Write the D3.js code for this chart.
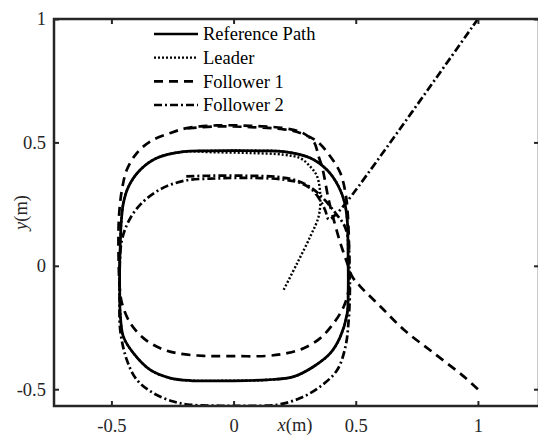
<!DOCTYPE html>
<html>
<head>
<meta charset="utf-8">
<script src="https://cdn.jsdelivr.net/npm/d3@7"></script>
<style>
  body { margin: 0; background: #fff; }
  svg text { font-family: "Liberation Serif", "DejaVu Serif", serif; }
</style>
</head>
<body>
<svg id="chart"></svg>
<script>
// Trajectories, [x, y] in metres
const referencePath = [
  [0.469, 0.00], [0.468, 0.10], [0.466, 0.173], [0.455, 0.254], [0.43, 0.321],
  [0.382, 0.389], [0.314, 0.437], [0.205, 0.463], [0.10, 0.466], [0.00, 0.467],
  [-0.10, 0.466], [-0.205, 0.463], [-0.314, 0.437], [-0.382, 0.389], [-0.43, 0.321],
  [-0.451, 0.254], [-0.46, 0.173], [-0.464, 0.08], [-0.466, 0.00], [-0.466, -0.10],
  [-0.464, -0.192], [-0.451, -0.287], [-0.41, -0.354], [-0.341, -0.422], [-0.259, -0.455],
  [-0.177, -0.465], [-0.06, -0.466], [0.05, -0.465], [0.137, -0.462], [0.246, -0.449],
  [0.328, -0.408], [0.396, -0.354], [0.437, -0.287], [0.465, -0.192], [0.469, -0.10],
  [0.469, 0.00]
];

const leader = [
  [0.205, -0.097], [0.26, 0.01], [0.314, 0.119], [0.348, 0.20], [0.355, 0.281],
  [0.342, 0.362], [0.314, 0.402], [0.273, 0.436], [0.205, 0.45], [0.068, 0.457],
  [-0.08, 0.46], [-0.205, 0.462], [-0.314, 0.437], [-0.382, 0.389], [-0.43, 0.321],
  [-0.451, 0.254], [-0.46, 0.173], [-0.464, 0.08], [-0.466, 0.00], [-0.466, -0.10],
  [-0.464, -0.192], [-0.451, -0.287], [-0.41, -0.354], [-0.341, -0.422], [-0.259, -0.455],
  [-0.177, -0.465], [-0.06, -0.466], [0.05, -0.465], [0.137, -0.462], [0.246, -0.449],
  [0.328, -0.408], [0.396, -0.354], [0.437, -0.287], [0.465, -0.192], [0.469, -0.10],
  [0.469, 0.00], [0.468, 0.10], [0.466, 0.173], [0.455, 0.254], [0.43, 0.321],
  [0.382, 0.389], [0.314, 0.437], [0.205, 0.463], [0.10, 0.466], [0.00, 0.467],
  [-0.15, 0.465]
];

const follower1 = [
  [1.00, -0.50], [0.943, -0.449], [0.82, -0.354], [0.697, -0.259], [0.601, -0.165],
  [0.519, -0.084], [0.485, -0.043], [0.465, 0.011], [0.451, 0.051], [0.437, 0.092],
  [0.41, 0.186], [0.389, 0.268], [0.376, 0.335], [0.362, 0.402], [0.348, 0.443],
  [0.33, 0.50], [0.28, 0.54], [0.205, 0.558], [0.068, 0.567], [-0.068, 0.569],
  [-0.191, 0.558], [-0.259, 0.538], [-0.341, 0.504], [-0.396, 0.457], [-0.437, 0.389],
  [-0.457, 0.308], [-0.467, 0.227], [-0.471, 0.146], [-0.47, 0.00], [-0.466, -0.09],
  [-0.457, -0.151], [-0.423, -0.232], [-0.369, -0.293], [-0.30, -0.334], [-0.232, -0.354],
  [-0.123, -0.365], [0.00, -0.366], [0.137, -0.365], [0.219, -0.354], [0.287, -0.334],
  [0.355, -0.293], [0.41, -0.232], [0.451, -0.165], [0.471, -0.097], [0.473, 0.00],
  [0.472, 0.10], [0.467, 0.214], [0.458, 0.295], [0.437, 0.376], [0.396, 0.443],
  [0.342, 0.504], [0.273, 0.538], [0.205, 0.553], [0.068, 0.562], [-0.068, 0.565],
  [-0.20, 0.556]
];

const follower2 = [
  [1.00, 1.00], [0.465, 0.261], [0.42, 0.21], [0.39, 0.188], [0.375, 0.225],
  [0.355, 0.265], [0.325, 0.305], [0.28, 0.333], [0.20, 0.35], [0.07, 0.356],
  [-0.07, 0.354], [-0.20, 0.345], [-0.30, 0.31], [-0.38, 0.25], [-0.43, 0.18],
  [-0.458, 0.10], [-0.466, 0.00], [-0.466, -0.10], [-0.464, -0.259], [-0.437, -0.381],
  [-0.396, -0.462], [-0.328, -0.516], [-0.246, -0.55], [-0.177, -0.563], [-0.055, -0.567],
  [0.05, -0.567], [0.178, -0.563], [0.273, -0.536], [0.355, -0.489], [0.424, -0.422],
  [0.458, -0.327], [0.471, -0.219], [0.476, -0.097], [0.474, 0.00], [0.47, 0.10],
  [0.455, 0.16], [0.42, 0.21], [0.37, 0.27], [0.32, 0.315], [0.26, 0.345],
  [0.18, 0.36], [0.05, 0.365], [-0.10, 0.365], [-0.20, 0.362]
];

const seriesNames = ["Reference Path", "Leader", "Follower 1", "Follower 2"];
const xTicks = [-0.5, 0, 0.5, 1];
const yTicks = [-0.5, 0, 0.5, 1];

const width = 538, height = 435;
const plot = { left: 54, top: 19, right: 539, bottom: 406 };

const svg = d3.select("#chart")
  .attr("width", width)
  .attr("height", height);

const x = d3.scaleLinear().domain([-0.735, 1.25]).range([plot.left, plot.right]);
const y = d3.scaleLinear().domain([-0.568, 1]).range([plot.bottom, plot.top]);

// line styles per series
const styles = [
  { dash: null, width: 2.7 },
  { dash: "2,2", width: 2.4 },
  { dash: "9,6", width: 2.7 },
  { dash: "8,3,2,3", width: 2.7 }
];

svg.append("clipPath").attr("id", "clip")
  .append("rect")
  .attr("x", plot.left).attr("y", plot.top)
  .attr("width", plot.right - plot.left).attr("height", plot.bottom - plot.top);

const line = d3.line()
  .x(d => x(d[0]))
  .y(d => y(d[1]))
  .curve(d3.curveCatmullRom.alpha(0.5));

const allSeries = [referencePath, leader, follower1, follower2];
const g = svg.append("g").attr("clip-path", "url(#clip)");

allSeries.forEach((pts, i) => {
  g.append("path")
    .datum(pts)
    .attr("d", line)
    .attr("fill", "none")
    .attr("stroke", "#000")
    .attr("stroke-width", styles[i].width)
    .attr("stroke-dasharray", styles[i].dash);
});

// Axes, ticks pointing inward on all four sides
const axisColor = "#262626";
const fmt = d => String(d);
function styleAxis(sel) {
  sel.select(".domain").remove();
  sel.selectAll(".tick line").attr("stroke", axisColor).attr("stroke-width", 2);
  sel.selectAll(".tick text")
    .attr("fill", axisColor)
    .style("font-size", "18.5px");
}

svg.append("g")
  .attr("transform", `translate(0,${plot.bottom})`)
  .call(d3.axisBottom(x).tickValues(xTicks).tickSize(-5).tickPadding(13).tickFormat(fmt))
  .call(styleAxis);

svg.append("g")
  .attr("transform", `translate(0,${plot.top})`)
  .call(d3.axisTop(x).tickValues(xTicks).tickSize(-5).tickFormat(""))
  .call(styleAxis);

svg.append("g")
  .attr("transform", `translate(${plot.left},0)`)
  .call(d3.axisLeft(y).tickValues(yTicks).tickSize(-5).tickPadding(8).tickFormat(fmt))
  .call(styleAxis);

svg.append("g")
  .attr("transform", `translate(${plot.right},0)`)
  .call(d3.axisRight(y).tickValues(yTicks).tickSize(-5).tickFormat(""))
  .call(styleAxis);

svg.append("rect")
  .attr("x", plot.left).attr("y", plot.top)
  .attr("width", plot.right - plot.left).attr("height", plot.bottom - plot.top)
  .attr("fill", "none")
  .attr("stroke", axisColor)
  .attr("stroke-width", 2.5);

// Axis labels
const xLabel = svg.append("text")
  .attr("x", 295).attr("y", 431)
  .attr("text-anchor", "middle")
  .attr("fill", axisColor)
  .style("font-size", "18.5px");
xLabel.append("tspan").style("font-style", "italic").text("x");
xLabel.append("tspan").text("(m)");

const yLabel = svg.append("text")
  .attr("transform", `translate(27,${(plot.top + plot.bottom) / 2}) rotate(-90)`)
  .attr("text-anchor", "middle")
  .attr("fill", axisColor)
  .style("font-size", "18.5px");
yLabel.append("tspan").style("font-style", "italic").text("y");
yLabel.append("tspan").text("(m)");

// Legend
const legend = svg.append("g");
const legendRowY = d3.scaleLinear().domain([0, 3]).range([34, 105]);
seriesNames.forEach((name, i) => {
  const ly = legendRowY(i);
  legend.append("line")
    .attr("x1", 154).attr("x2", 198)
    .attr("y1", ly).attr("y2", ly)
    .attr("stroke", "#000")
    .attr("stroke-width", styles[i].width)
    .attr("stroke-dasharray", styles[i].dash);
  legend.append("text")
    .attr("x", 203).attr("y", ly)
    .attr("dy", "0.35em")
    .attr("fill", "#000")
    .style("font-size", "18.5px")
    .text(name);
});
</script>
</body>
</html>
